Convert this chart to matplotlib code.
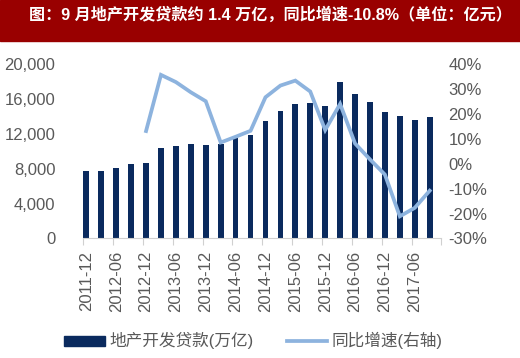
import numpy as np
import matplotlib
matplotlib.use("Agg")
import matplotlib.pyplot as plt
from matplotlib.patches import Patch, Rectangle
from matplotlib.lines import Line2D
from matplotlib.ticker import FuncFormatter

plt.rcParams['font.family'] = ['Liberation Sans', 'Noto Sans CJK SC', 'DejaVu Sans']

# quarterly data, 2011-12 .. 2017-09
quarters = ['2011-12', '2012-03', '2012-06', '2012-09', '2012-12', '2013-03',
            '2013-06', '2013-09', '2013-12', '2014-03', '2014-06', '2014-09',
            '2014-12', '2015-03', '2015-06', '2015-09', '2015-12', '2016-03',
            '2016-06', '2016-09', '2016-12', '2017-03', '2017-06', '2017-09']
loans = [7700, 7700, 8100, 8500, 8700, 10450, 10650, 10850, 10750, 10800,
         11550, 11900, 13550, 14650, 15450, 15550, 15200, 18000, 16650,
         15700, 14500, 14100, 13650, 14000]
yoy = [np.nan, np.nan, np.nan, np.nan, 13.2, 35.8, 32.9, 28.8, 25.2, 8.6,
       10.9, 13.3, 26.8, 31.5, 33.5, 29.1, 13.6, 24.1, 8.2, 1.8, -4.3,
       -21.1, -17.7, -10.8]

title = '图：9 月地产开发贷款约 1.4 万亿，同比增速-10.8%（单位：亿元）'
bar_label = '地产开发贷款(万亿)'
line_label = '同比增速(右轴)'

navy = '#0a2a5e'
light = '#8db3de'
grey = '#595959'
axis_grey = '#d0d0d0'

fig = plt.figure(figsize=(5.2, 3.58), dpi=100)

# title band
fig.patches.append(Rectangle((0, 0.885), 1, 0.115, transform=fig.transFigure,
                             color='#990000', zorder=0))
fig.text(0.985, 0.96, title, color='white', fontsize=11.6, fontweight='bold',
         ha='right', va='center')

ax = fig.add_axes([0.160, 0.334, 0.689, 0.486])
x = np.arange(len(quarters))
ax.bar(x, loans, width=0.38, color=navy, zorder=2)
ax.set_ylim(0, 20000)
ax.set_yticks(np.arange(0, 20001, 4000))
ax.yaxis.set_major_formatter(FuncFormatter(lambda v, p: f'{int(v):,}'))
ax.set_xlim(-0.21, 23.79)

for s in ['top', 'right', 'left']:
    ax.spines[s].set_visible(False)
ax.spines['bottom'].set_color(axis_grey)
ax.tick_params(axis='y', length=0, pad=20, labelsize=12, labelcolor=grey)

# ticks between categories, labels on the bars
ax.set_xticks(-0.21 + 2 * np.arange(13))
ax.set_xticklabels([])
ax.tick_params(axis='x', which='major', length=5, color=axis_grey)
ax.set_xticks(x[::2], minor=True)
ax.set_xticklabels(quarters[::2], minor=True, rotation=90, fontsize=12,
                   color=grey)
ax.tick_params(axis='x', which='minor', length=0, pad=9)

ax2 = ax.twinx()
ax2.plot(x, yoy, color=light, lw=2.7, solid_joinstyle='miter', zorder=3)
ax2.set_ylim(-30, 40)
ax2.set_yticks(np.arange(-30, 41, 10))
ax2.yaxis.set_major_formatter(FuncFormatter(lambda v, p: f'{int(v)}%'))
ax2.tick_params(axis='y', length=0, pad=5, labelsize=12, labelcolor=grey)
for s in ['top', 'right', 'left', 'bottom']:
    ax2.spines[s].set_visible(False)

handles = [Patch(color=navy), Line2D([], [], color=light, lw=2.7)]
fig.legend(handles, [bar_label, line_label], loc='center',
           bbox_to_anchor=(0.487, 0.048), ncol=2, frameon=False, fontsize=12,
           handlelength=2.45, handleheight=0.55, handletextpad=0.25,
           columnspacing=2.0, labelcolor=grey)

fig.savefig('out.png', dpi=100)
